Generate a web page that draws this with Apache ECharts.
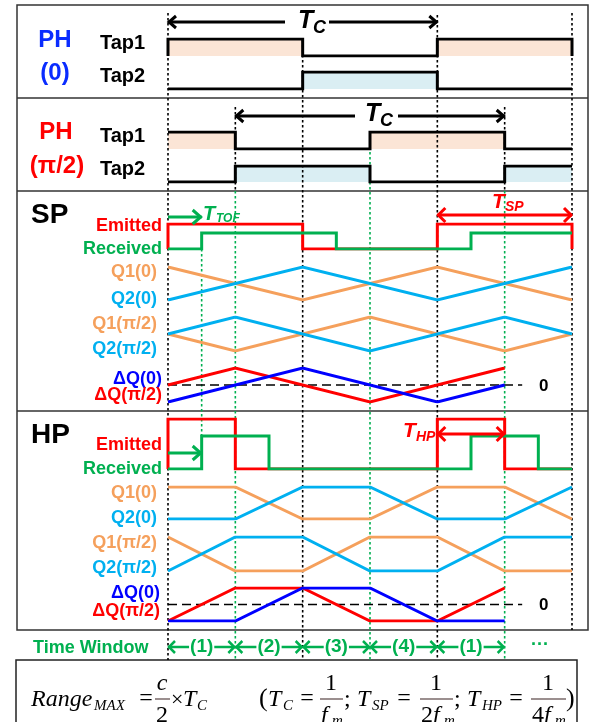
<!DOCTYPE html>
<html><head><meta charset="utf-8">
<script src="https://cdn.jsdelivr.net/npm/echarts@6/dist/echarts.min.js"></script>
<style>html,body{margin:0;padding:0;background:#fff}#c{width:590px;height:722px}</style>
</head><body><div id="c"></div>
<script>
// ---- DATA (time unit = one quarter of Tc; 6 quarters shown) ----
const ph0Tap1 = [1,1,0,0,1,1];            // level per quarter
const ph0Tap2 = [0,0,1,1,0,0];
const ph90Tap1 = [1,0,0,1,1,0];
const ph90Tap2 = [0,1,1,0,0,1];
const spEmitted = [1,1,0,0,1,1];          // per quarter
const spReceived = [0,1,1,1,1,0,0,0,0,1,1,1]; // per half quarter (delay = TOF)
const hpEmitted = [1,0,0,0,1,0];
const hpReceived = [0,1,1,0,0,0,0,0,0,1,1,0];
const spReceivedLevel = 0.64;
const hpReceivedLevel = 0.66;
const spQ0Times = [0,2,4,6];     const spQ1_0 = [1,0,1,0];   const spQ2_0 = [0,1,0,1];
const spQ90Times = [0,1,3,5,6];  const spQ1_90 = [0.5,0,1,0,0.5]; const spQ2_90 = [0.5,1,0,1,0.5];
const spDQ0Times = [0,2,4,5];    const spDQ0 = [-1,1,-1,0];
const spDQ90Times = [0,1,3,5];   const spDQ90 = [0,1,-1,1];
const hpQTimes = [0,1,2,3,4,5,6];
const hpQ1_0 = [1,1,0,0,1,1,0];  const hpQ2_0 = [0,0,1,1,0,0,1];
const hpQ1_90 = [1,0,0,1,1,0,0]; const hpQ2_90 = [0,1,1,0,0,1,1];
const hpDQTimes = [0,1,2,3,4,5];
const hpDQ0 = [-1,-1,1,1,-1,-1];
const hpDQ90 = [-1,1,1,-1,-1,1];
const zeroLineEnd = 5.26;
const windowStarts = [0,1,2,3,4];
const windowLabels = ['(1)','(2)','(3)','(4)','(1)'];

// ---- STYLE / LAYOUT ----
const X0 = 168, XW = 404;
const SANS = '"Liberation Sans", Arial, sans-serif';
const SERIF = '"Liberation Serif", "Times New Roman", serif';
const COL = {orange:'#F5A05C', cyan:'#00B0F0', green:'#00B050', red:'#FF0000', blue:'#0000FF', black:'#000000', peach:'#FBE5D6', ice:'#DAEEF3'};

const layout = [
  {top:39, h:17, min:0, max:1},
  {top:72, h:17, min:0, max:1},
  {top:132,h:17, min:0, max:1},
  {top:166,h:16, min:0, max:1},
  {top:224,h:25, min:0, max:1},
  {top:267,h:33, min:0, max:1},
  {top:317,h:34, min:0, max:1},
  {top:368,h:34, min:-1,max:1},
  {top:419,h:50, min:0, max:1},
  {top:487,h:32, min:0, max:1},
  {top:537,h:34, min:0, max:1},
  {top:588,h:33, min:-1,max:1},
  {top:0,  h:722,min:0, max:722, inverse:true}
];
const OV = 12;

function steps(levels, dt, amp, closeStart, closeEnd){
  const pts = [];
  if (closeStart) pts.push([0,0]);
  levels.forEach((v,i)=>{ pts.push([i*dt, v*amp], [(i+1)*dt, v*amp]); });
  if (closeEnd) pts.push([levels.length*dt, 0]);
  return pts;
}
function zipT(ts, vs){ return ts.map((t,i)=>[t, vs[i]]); }
function line(gi, data, color, z, ls){
  return {type:'line', xAxisIndex:gi, yAxisIndex:gi, data, symbol:'none', showSymbol:false,
    lineStyle:Object.assign({color, width:3, join:'miter'}, ls||{}), itemStyle:{color}, z:z||4, silent:true, animation:false};
}
function area(gi, data, color){
  return {type:'line', xAxisIndex:gi, yAxisIndex:gi, data, symbol:'none', showSymbol:false,
    lineStyle:{width:0, opacity:0}, areaStyle:{color, opacity:1, origin:'start'}, z:1, silent:true, animation:false};
}

const series = [];
// PH taps
[[0,ph0Tap1,COL.peach,true],[1,ph0Tap2,COL.ice,false],[2,ph90Tap1,COL.peach,false],[3,ph90Tap2,COL.ice,false]].forEach(([gi,lv,fc,close])=>{
  const d = steps(lv,1,1,close,close);
  series.push(area(gi,d,fc));
  series.push(line(gi,d,COL.black,4));
});
// SP emitted / received
series.push(line(4, steps(spEmitted,1,1,true,true), COL.red, 4));
series.push(line(4, steps(spReceived,0.5,spReceivedLevel,false,false), COL.green, 5));
series.push(line(5, zipT(spQ0Times,spQ1_0), COL.orange, 4));
series.push(line(5, zipT(spQ0Times,spQ2_0), COL.cyan, 5));
series.push(line(6, zipT(spQ90Times,spQ1_90), COL.orange, 4));
series.push(line(6, zipT(spQ90Times,spQ2_90), COL.cyan, 5));
series.push(line(7, [[0,0],[zeroLineEnd,0]], COL.black, 3, {width:1.5, type:[9,5]}));
series.push(line(7, zipT(spDQ90Times,spDQ90), COL.red, 4));
series.push(line(7, zipT(spDQ0Times,spDQ0), COL.blue, 5));
// HP
series.push(line(8, steps(hpEmitted,1,1,true,false), COL.red, 4));
series.push(line(8, steps(hpReceived,0.5,hpReceivedLevel,false,false), COL.green, 5));
series.push(line(9, zipT(hpQTimes,hpQ1_0), COL.orange, 4));
series.push(line(9, zipT(hpQTimes,hpQ2_0), COL.cyan, 5));
series.push(line(10, zipT(hpQTimes,hpQ1_90), COL.orange, 4));
series.push(line(10, zipT(hpQTimes,hpQ2_90), COL.cyan, 5));
series.push(line(11, [[0,0],[zeroLineEnd,0]], COL.black, 3, {width:1.5, type:[9,5]}));
series.push(line(11, zipT(hpDQTimes,hpDQ90), COL.red, 4));
series.push(line(11, zipT(hpDQTimes,hpDQ0), COL.blue, 5));

// guide lines (overlay grid: y in page rows)
const guides = [
  {t:0, y0:13, y1:660, c:COL.black},
  {t:2, y0:40, y1:660, c:COL.black},
  {t:4, y0:15, y1:660, c:COL.black},
  {t:6, y0:13, y1:630, c:COL.black},
  {t:1, y0:107,y1:191, c:COL.black},
  {t:1, y0:191,y1:660, c:COL.green},
  {t:5, y0:107,y1:191, c:COL.black},
  {t:5, y0:191,y1:660, c:COL.green},
  {t:3, y0:132,y1:660, c:COL.green},
  {t:0.5, y0:249, y1:436, c:COL.green}
];
series.push({type:'custom', xAxisIndex:OV, yAxisIndex:OV, z:2, silent:true, animation:false,
  data: guides.map(g=>[g.t,g.y0,g.y1]),
  renderItem:(p,api)=>{ const g=guides[p.dataIndex]; const a=api.coord([g.t,g.y0]), b=api.coord([g.t,g.y1]);
    return {type:'line', shape:{x1:a[0],y1:a[1],x2:b[0],y2:b[1]}, style:{stroke:g.c, lineWidth:1.6, lineDash:[2.5,2.5], fill:null}}; }
});

// arrows
const arrows = [
  {t0:0, t1:4, y:22,  c:COL.black, w:3, l:true, r:true, hl:8, hw:6},
  {t0:1, t1:5, y:116, c:COL.black, w:3, l:true, r:true, hl:8, hw:6},
  {t0:0, t1:0.5, y:217, c:COL.green, w:3, l:false, r:true, hl:9, hw:7},
  {t0:4, t1:6, y:215, c:COL.red, w:3, l:true, r:true, hl:8, hw:7},
  {t0:0, t1:0.5, y:453, c:COL.green, w:3, l:false, r:true, hl:9, hw:7},
  {t0:4, t1:5, y:434, c:COL.red, w:3, l:true, r:true, hl:8, hw:7}
];
windowStarts.forEach(t=>arrows.push({t0:t, t1:t+1, y:647, c:COL.green, w:2.5, l:true, r:true, hl:7, hw:6}));
series.push({type:'custom', xAxisIndex:OV, yAxisIndex:OV, z:6, silent:true, animation:false,
  data: arrows.map(a=>[a.t0,a.y]),
  renderItem:(p,api)=>{ const a=arrows[p.dataIndex]; const s=api.coord([a.t0,a.y]), e=api.coord([a.t1,a.y]);
    const st={stroke:a.c, lineWidth:a.w, fill:null, lineJoin:'miter'};
    const ch=[{type:'line', shape:{x1:s[0],y1:s[1],x2:e[0],y2:e[1]}, style:st}];
    if(a.l) ch.push({type:'polyline', shape:{points:[[s[0]+a.hl,s[1]-a.hw],[s[0]+1,s[1]],[s[0]+a.hl,s[1]+a.hw]]}, style:st});
    if(a.r) ch.push({type:'polyline', shape:{points:[[e[0]-a.hl,e[1]-a.hw],[e[0]-1,e[1]],[e[0]-a.hl,e[1]+a.hw]]}, style:st});
    return {type:'group', children:ch}; }
});

// ---- TEXT / FRAMES ----
const G = [];
function txt(x,y,text,o){
  o=o||{};
  G.push({type:'text', x, y, z:100, silent:true, style:{text, fill:o.color||'#000', font:`${o.style||'normal'} ${o.weight||'bold'} ${o.size||18}px ${o.family||SANS}`,
    textAlign:o.align||'left', textVerticalAlign:'middle', backgroundColor:o.bg, padding:o.pad}});
}
function rect(x,y,w,h,o){ G.push({type:'rect', z:o.z||0, silent:true, shape:{x,y,width:w,height:h}, style:{fill:o.fill||null, stroke:o.stroke||null, lineWidth:o.lw||1.5}}); }
function hline(x1,x2,y,o){ G.push({type:'line', z:o.z||0, silent:true, shape:{x1,y1:y,x2,y2:y}, style:{stroke:o.stroke||'#333', lineWidth:o.lw||1.5}}); }

// panel frames
rect(17,5,571,625,{stroke:'#333'});
hline(17,588,98,{}); hline(17,588,191,{}); hline(17,588,411,{});
rect(16,660,561,80,{stroke:'#222'});

// PH labels
txt(55,40,'PH',{color:'#0a2cff',size:24,align:'center'});
txt(55,73,'(0)',{color:'#0a2cff',size:24,align:'center'});
txt(56,132,'PH',{color:COL.red,size:24,align:'center'});
txt(57,166,'(π/2)',{color:COL.red,size:24,align:'center'});
txt(100,43,'Tap1',{size:20}); txt(100,76,'Tap2',{size:20});
txt(100,136,'Tap1',{size:20}); txt(100,169,'Tap2',{size:20});
// Tc labels with white gaps
rect(285,10,44,24,{fill:'#fff',z:99});
txt(298,21,'T',{size:25,style:'italic'}); txt(313,28,'C',{size:18,style:'italic'});
rect(355,103,43,26,{fill:'#fff',z:99});
txt(365,114,'T',{size:25,style:'italic'}); txt(380,121,'C',{size:18,style:'italic'});

// SP
txt(31,215,'SP',{size:28});
txt(162,226,'Emitted',{color:COL.red,align:'right'});
txt(162,249,'Received',{color:COL.green,align:'right'});
txt(157,272,'Q1(0)',{color:COL.orange,align:'right'});
txt(157,299,'Q2(0)',{color:COL.cyan,align:'right'});
txt(157,324,'Q1(π/2)',{color:COL.orange,align:'right'});
txt(157,349,'Q2(π/2)',{color:COL.cyan,align:'right'});
txt(162,379,'ΔQ(0)',{color:COL.blue,align:'right'});
txt(162,395,'ΔQ(π/2)',{color:COL.red,align:'right'});
txt(539,386,'0',{size:17});
txt(203,214,'T',{color:COL.green,size:20,style:'italic'});
txt(216,219,'TOF',{color:COL.green,size:12,style:'italic'});
txt(492,202,'T',{color:COL.red,size:21,style:'italic'});
txt(505,207,'SP',{color:COL.red,size:14,style:'italic'});

// HP
txt(31,435,'HP',{size:28});
txt(162,445,'Emitted',{color:COL.red,align:'right'});
txt(162,469,'Received',{color:COL.green,align:'right'});
txt(157,493,'Q1(0)',{color:COL.orange,align:'right'});
txt(157,518,'Q2(0)',{color:COL.cyan,align:'right'});
txt(157,543,'Q1(π/2)',{color:COL.orange,align:'right'});
txt(157,568,'Q2(π/2)',{color:COL.cyan,align:'right'});
txt(160,593,'ΔQ(0)',{color:COL.blue,align:'right'});
txt(160,611,'ΔQ(π/2)',{color:COL.red,align:'right'});
txt(539,605,'0',{size:17});
txt(403,431,'T',{color:COL.red,size:21,style:'italic'});
txt(416,437,'HP',{color:COL.red,size:14,style:'italic'});

// time window
txt(33,648,'Time Window',{color:COL.green,size:18});
windowLabels.forEach((s,i)=>{
  const cx = X0 + (windowStarts[i]+0.5)*XW/6;
  txt(cx,647,s,{color:COL.green,size:19,align:'center',bg:'#fff',pad:[0,1]});
});
txt(540,645,'···',{color:COL.green,size:18,align:'center'});

// formula
const fi = {family:SERIF, style:'italic', weight:'normal', size:24};
const fn = {family:SERIF, weight:'normal', size:24};
const fs = {family:SERIF, style:'italic', weight:'normal', size:15};
const o = (b,e)=>Object.assign({},b,e||{});
txt(31,700,'Range',fi); txt(94,706,'MAX',fs);
txt(146,699,'=',o(fn,{align:'center'}));
txt(162,684,'c',o(fi,{align:'center'})); G.push({type:'line',z:100,silent:true,shape:{x1:155,y1:699,x2:170,y2:699},style:{stroke:'#7a6a6a',lineWidth:1.5}});
txt(162,716,'2',o(fn,{align:'center'}));
txt(171,700,'×',o(fn,{size:22})); txt(183,700,'T',fi); txt(197,706,'C',fs);
txt(259,699,'(',o(fn,{size:26})); txt(268,700,'T',fi); txt(283,706,'C',fs);
txt(307,699,'=',o(fn,{align:'center'}));
function frac(cx,x1,x2,den){
  txt(cx,684,'1',o(fn,{align:'center'}));
  G.push({type:'line',z:100,silent:true,shape:{x1,y1:699,x2,y2:699},style:{stroke:'#7a6a6a',lineWidth:1.5}});
  let x = x1+1;
  if(den){ txt(x,716,den,fn); x += 12; }
  txt(x,716,'f',fi); txt(x+11,721,'m',fs);
}
frac(331,320,343,'');
txt(344,700,';',fn); txt(357,700,'T',fi); txt(372,706,'SP',fs); txt(404,699,'=',o(fn,{align:'center'}));
frac(436,420,453,'2');
txt(454,700,';',fn); txt(467,700,'T',fi); txt(482,706,'HP',fs); txt(516,699,'=',o(fn,{align:'center'}));
frac(548,531,566,'4');
txt(566,699,')',o(fn,{size:26}));

const option = {
  animation:false,
  backgroundColor:'#fff',
  grid: layout.map(l=>({left:X0, width:XW, top:l.top, height:l.h, containLabel:false})),
  xAxis: layout.map((l,i)=>({type:'value', gridIndex:i, min:0, max:6, show:false})),
  yAxis: layout.map((l,i)=>({type:'value', gridIndex:i, min:l.min, max:l.max, inverse:!!l.inverse, show:false})),
  series,
  graphic:{elements:G}
};
const chart = echarts.init(document.getElementById('c'));
chart.setOption(option);
</script></body></html>
